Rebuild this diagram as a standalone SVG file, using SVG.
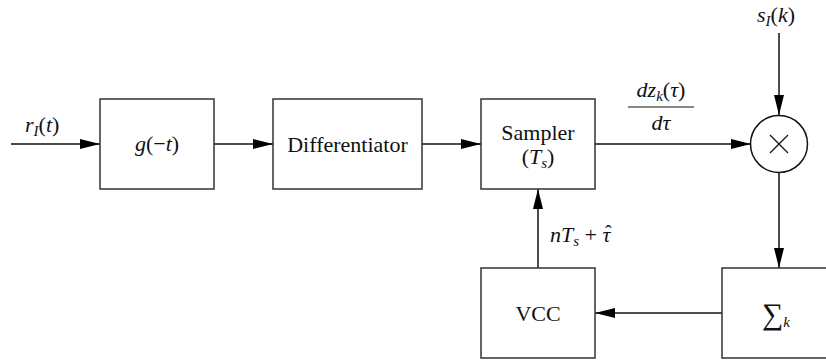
<svg xmlns="http://www.w3.org/2000/svg" width="826" height="362" viewBox="0 0 826 362">
<defs>
<marker id="ah" viewBox="0 0 20 10" refX="20" refY="5" markerWidth="20" markerHeight="10" markerUnits="userSpaceOnUse" orient="auto">
<path d="M0,0 L20,5 L0,10 Z" fill="#000"/>
</marker>
<style>
.box{fill:#fff;stroke:#333;stroke-width:1.5}
.ln{fill:none;stroke:#111;stroke-width:1.5}
.t{font-family:"Liberation Serif","DejaVu Serif","Times New Roman",serif;font-size:22px;fill:#111}
.it{font-style:italic}
.sub{font-size:15px;font-style:italic}
</style>
</defs>
<g id="connectors">
<line class="ln" x1="11" y1="144" x2="100" y2="144" marker-end="url(#ah)"/>
<line class="ln" x1="214" y1="144" x2="273" y2="144" marker-end="url(#ah)"/>
<line class="ln" x1="422" y1="144" x2="481" y2="144" marker-end="url(#ah)"/>
<line class="ln" x1="595" y1="144" x2="751" y2="144" marker-end="url(#ah)"/>
<line class="ln" x1="779" y1="33" x2="779" y2="115" marker-end="url(#ah)"/>
<line class="ln" x1="779" y1="173" x2="779" y2="268" marker-end="url(#ah)"/>
<line class="ln" x1="722" y1="313" x2="595" y2="313" marker-end="url(#ah)"/>
<line class="ln" x1="538" y1="268" x2="538" y2="189" marker-end="url(#ah)"/>
<text class="t it" x="25" y="132">r<tspan class="sub" dy="4">I</tspan><tspan dy="-4" font-style="normal">(</tspan>t<tspan font-style="normal">)</tspan></text>
<text class="t" x="661" y="97" text-anchor="middle"><tspan class="it">dz</tspan><tspan class="sub" dy="4">k</tspan><tspan dy="-4">(</tspan><tspan class="it">τ</tspan>)</text>
<line x1="628" y1="107" x2="694" y2="107" stroke="#111" stroke-width="1.2"/>
<text class="t it" x="661" y="130" text-anchor="middle">dτ</text>
<text class="t it" x="757" y="22">s<tspan class="sub" dy="4">I</tspan><tspan dy="-4" font-style="normal">(</tspan>k<tspan font-style="normal">)</tspan></text>
<text class="t" x="550" y="242"><tspan class="it">nT</tspan><tspan class="sub" dy="4">s</tspan><tspan dy="-4"> + </tspan><tspan class="it">τ</tspan></text>
<text class="t" x="605" y="240" style="font-size:20px">ˆ</text>
</g>
<g id="g">
<rect class="box" x="100" y="99" width="114" height="90"/>
<text class="t" x="157" y="151" text-anchor="middle"><tspan class="it">g</tspan>(−<tspan class="it">t</tspan>)</text>
</g>
<g id="diff">
<rect class="box" x="273" y="99" width="149" height="90"/>
<text class="t" x="347.5" y="152" text-anchor="middle">Differentiator</text>
</g>
<g id="sampler">
<rect class="box" x="481" y="99" width="114" height="90"/>
<text class="t" x="538" y="140" text-anchor="middle">Sampler</text>
<text class="t" x="538" y="164" text-anchor="middle">(<tspan class="it">T</tspan><tspan class="sub" dy="4">s</tspan><tspan dy="-4">)</tspan></text>
</g>
<g id="mult">
<circle cx="779" cy="144" r="28.5" fill="#fff" stroke="#111" stroke-width="1.5"/>
<path d="M770,135 L788,153 M788,135 L770,153" stroke="#111" stroke-width="1.3"/>
</g>
<g id="vcc">
<rect class="box" x="481" y="268" width="114" height="90"/>
<text class="t" x="538" y="321" text-anchor="middle">VCC</text>
</g>
<g id="sum">
<rect class="box" x="722" y="268" width="114" height="90"/>
<text class="t" x="776" y="324" text-anchor="middle" style="font-size:30px">∑<tspan class="sub" dy="3">k</tspan></text>
</g>
</svg>
